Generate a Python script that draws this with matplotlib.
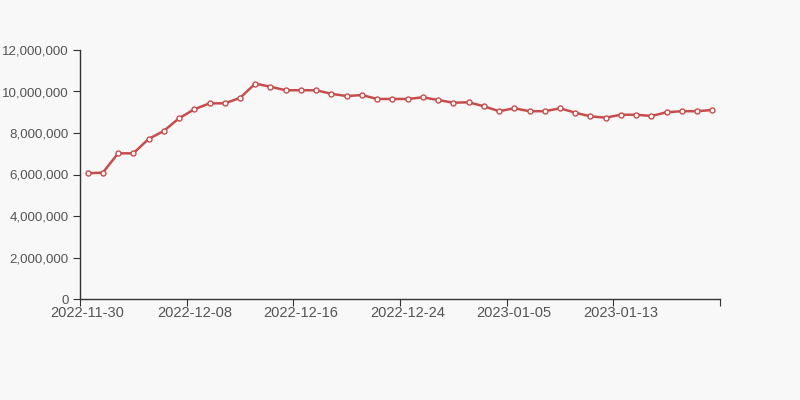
import numpy as np
import matplotlib.pyplot as plt

# === Données ===
dates = [
    "2022-11-30", "2022-12-01", "2022-12-02", "2022-12-03", "2022-12-04", "2022-12-06", "2022-12-07",
    "2022-12-08", "2022-12-09", "2022-12-10", "2022-12-11", "2022-12-13", "2022-12-14", "2022-12-15",
    "2022-12-16", "2022-12-17", "2022-12-18", "2022-12-20", "2022-12-21", "2022-12-22", "2022-12-23",
    "2022-12-24", "2022-12-25", "2022-12-27", "2022-12-29", "2022-12-31", "2023-01-02", "2023-01-04",
    "2023-01-05", "2023-01-06", "2023-01-07", "2023-01-08", "2023-01-10", "2023-01-11", "2023-01-12",
    "2023-01-13", "2023-01-14", "2023-01-15", "2023-01-17", "2023-01-18", "2023-01-19", "2023-01-20",
]
values = [
    6060000, 6090000, 7020000, 7020000, 7710000, 8100000, 8710000,
    9140000, 9430000, 9430000, 9690000, 10380000, 10230000, 10060000,
    10060000, 10060000, 9890000, 9780000, 9830000, 9640000, 9640000,
    9640000, 9720000, 9590000, 9460000, 9480000, 9290000, 9050000,
    9190000, 9050000, 9050000, 9190000, 8980000, 8800000, 8740000,
    8880000, 8880000, 8820000, 9000000, 9050000, 9050000, 9110000,
]
y_ticks = [0, 2000000, 4000000, 6000000, 8000000, 10000000, 12000000]
label_step = 7

# === Figure ===
bg = "#f8f8f8"
fig = plt.figure(figsize=(8, 4), dpi=100, facecolor=bg)
ax = fig.add_axes([0.1, 0.2525, 0.8, 0.6225], facecolor=bg)

x = np.arange(len(values))
ax.plot(x, values, color="#c94c4c", lw=1.8, marker="o", ms=3.6,
        markerfacecolor="white", markeredgecolor="#c94c4c", markeredgewidth=1, zorder=3)

ax.set_xlim(-0.5, len(values) - 0.5)
ax.set_ylim(0, 12000000)

# ticks aux limites des catégories, labels au centre
ax.set_xticks(np.arange(-0.5, len(values), label_step))
ax.set_xticklabels([])
ax.set_xticks(x[::label_step], minor=True)
ax.set_xticklabels(dates[::label_step], minor=True)
ax.tick_params(axis="x", which="major", length=5, color="#333333")
ax.tick_params(axis="x", which="minor", length=0, pad=5, labelsize=10.5, labelcolor="#555555")

ax.set_yticks(y_ticks)
ax.set_yticklabels([f"{v:,}" for v in y_ticks])
ax.tick_params(axis="y", length=5, color="#333333", labelsize=9.6, labelcolor="#555555", pad=3)

for s in ["top", "right"]:
    ax.spines[s].set_visible(False)
for s in ["left", "bottom"]:
    ax.spines[s].set_color("#333333")
    ax.spines[s].set_linewidth(1)

for lab in ax.get_xticklabels(minor=True) + ax.get_yticklabels():
    lab.set_fontfamily("Liberation Sans")

fig.savefig("out.png", dpi=100, facecolor=bg)
